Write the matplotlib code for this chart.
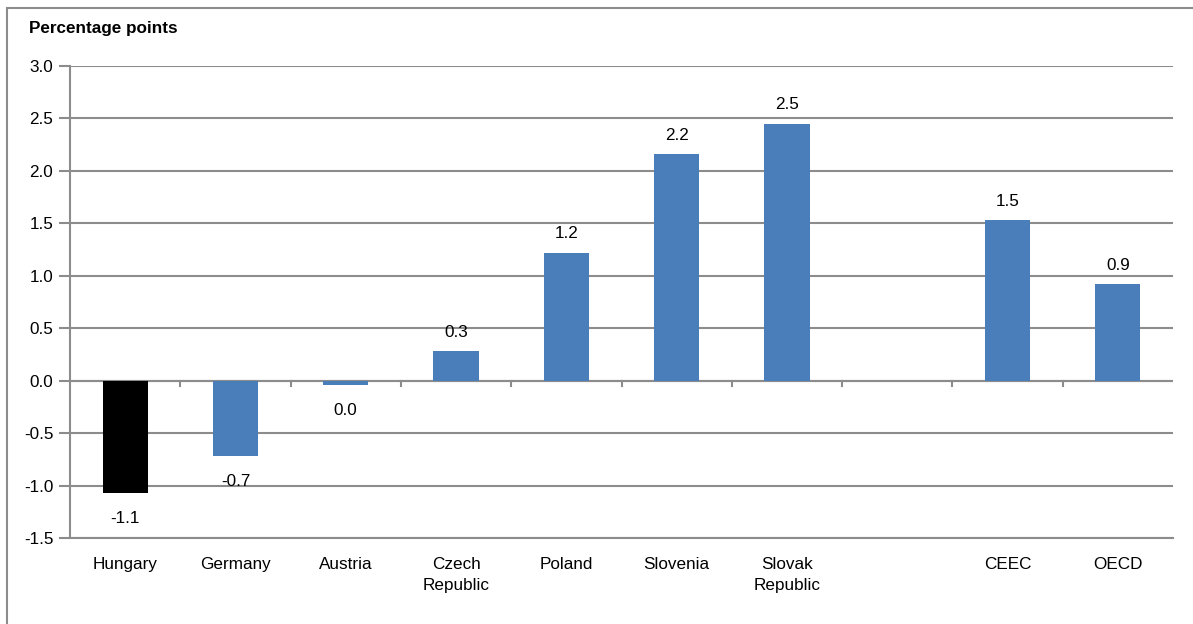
import matplotlib
matplotlib.use("Agg")
import matplotlib.pyplot as plt
from matplotlib.patches import Rectangle

plt.rcParams['font.family'] = ['Liberation Sans', 'DejaVu Sans']

categories = ["Hungary", "Germany", "Austria", "Czech\nRepublic", "Poland",
              "Slovenia", "Slovak\nRepublic", "", "CEEC", "OECD"]
values = [-1.07, -0.72, -0.04, 0.28, 1.22, 2.16, 2.45, None, 1.53, 0.92]
labels = ["-1.1", "-0.7", "0.0", "0.3", "1.2", "2.2", "2.5", "", "1.5", "0.9"]
colors = ["#000000"] + ["#4A7EBB"] * 9
yticks = [-1.5, -1.0, -0.5, 0.0, 0.5, 1.0, 1.5, 2.0, 2.5, 3.0]

fig = plt.figure(figsize=(11.93, 6.24), dpi=100)
ax = fig.add_axes([70/1193, 1-538/624, (1173-70)/1193, (538-66)/624])

# outer frame
fig.patches.append(Rectangle((7/1193, -0.05), 1.2, 1 - 8/624 + 0.05,
                             transform=fig.transFigure, fill=False,
                             edgecolor="#8c8c8c", linewidth=1.5, zorder=0))

FS = 12.3
for i, (v, c, lab) in enumerate(zip(values, colors, labels)):
    if v is None:
        continue
    ax.bar(i, v, width=0.41, color=c, zorder=3)
    if v >= 0:
        ax.text(i, v + 0.11, lab, ha="center", va="bottom", fontsize=FS)
    else:
        ax.text(i, v - 0.17, lab, ha="center", va="top", fontsize=FS)

ax.set_xlim(-0.5, 9.5)
ax.set_ylim(-1.5, 3.0)
ax.set_yticks(yticks)
ax.set_yticklabels([f"{t:.1f}" for t in yticks], fontsize=FS)
ax.yaxis.grid(True, color="#8c8c8c", linewidth=1.5, zorder=0)
ax.set_axisbelow(True)
ax.tick_params(axis="y", length=8, color="#8c8c8c", width=1.5, pad=4)

# category labels at bottom
ax.set_xticks(range(len(categories)))
ax.set_xticklabels(categories, fontsize=FS, linespacing=1.45)
ax.tick_params(axis="x", length=0, pad=14)

# small tick marks on the zero line between categories
for b in [i + 0.5 for i in range(9)]:
    ax.plot([b, b], [0, -0.05], color="#8c8c8c", linewidth=1.5, zorder=2)
ax.axhline(0, color="#8c8c8c", linewidth=1.5, zorder=2)

for s in ["top", "right"]:
    ax.spines[s].set_visible(False)
ax.spines["left"].set_color("#8c8c8c")
ax.spines["left"].set_linewidth(1.5)
ax.spines["bottom"].set_color("#8c8c8c")
ax.spines["bottom"].set_linewidth(1.5)

fig.text(29/1193, 1 - 28/624, "Percentage points", fontsize=12.3,
         fontweight="bold", ha="left", va="center")

fig.savefig("out.png", dpi=100)
